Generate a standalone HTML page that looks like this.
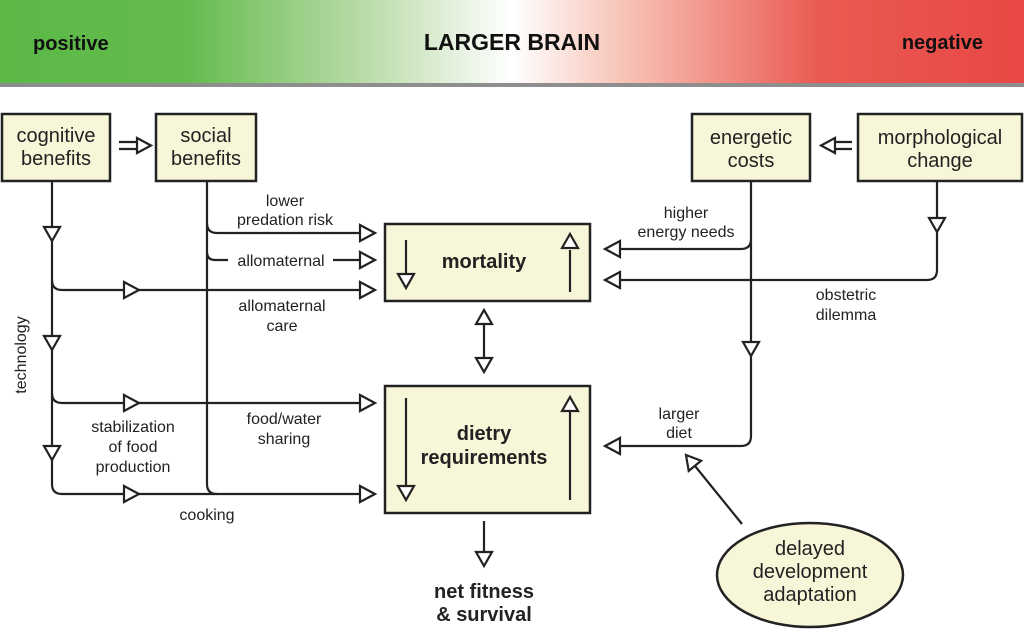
<!DOCTYPE html>
<html><head><meta charset="utf-8"><style>
html,body{margin:0;padding:0;background:#fff;width:1024px;height:633px;overflow:hidden}
svg{display:block;font-family:"Liberation Sans",Arial,sans-serif}
</style></head><body>
<svg width="1024" height="633" viewBox="0 0 1024 633" xmlns="http://www.w3.org/2000/svg">
<defs>
<linearGradient id="g" x1="0" x2="1" y1="0" y2="0">
<stop offset="0" stop-color="#5cb946"/>
<stop offset="0.18" stop-color="#63bb4d"/>
<stop offset="0.36" stop-color="#bcdcab"/>
<stop offset="0.5" stop-color="#ffffff"/>
<stop offset="0.6" stop-color="#f8c8bc"/>
<stop offset="0.8" stop-color="#ea5a52"/>
<stop offset="1" stop-color="#e84845"/>
</linearGradient>
</defs>
<rect x="0" y="0" width="1024" height="83" fill="url(#g)"/>
<rect x="0" y="83" width="1024" height="4" fill="#8e8e8e"/>
<text x="33" y="50" font-size="20" font-weight="bold" fill="#111">positive</text>
<text x="512" y="50" font-size="23" font-weight="bold" text-anchor="middle" fill="#111">LARGER BRAIN</text>
<text x="983" y="49" font-size="20" font-weight="bold" text-anchor="end" fill="#111">negative</text>

<g fill="#f8f6d8" stroke="#222" stroke-width="2.5">
<rect x="2" y="114" width="108" height="67"/>
<rect x="156" y="114" width="100" height="67"/>
<rect x="692" y="114" width="118" height="67"/>
<rect x="858" y="114" width="164" height="67"/>
<rect x="385" y="224" width="205" height="77"/>
<rect x="385" y="386" width="205" height="127"/>
<ellipse cx="810" cy="575" rx="93" ry="52"/>
</g>
<g font-size="20" text-anchor="middle" fill="#222">
<text x="56" y="142">cognitive</text><text x="56" y="165">benefits</text>
<text x="206" y="142">social</text><text x="206" y="165">benefits</text>
<text x="751" y="144">energetic</text><text x="751" y="167">costs</text>
<text x="940" y="144">morphological</text><text x="940" y="167">change</text>
<text x="810" y="555">delayed</text><text x="810" y="578">development</text><text x="810" y="601">adaptation</text>
</g>
<g font-size="20" font-weight="bold" text-anchor="middle" fill="#222">
<text x="484" y="268">mortality</text>
<text x="484" y="440">dietry</text><text x="484" y="464">requirements</text>
<text x="484" y="598">net fitness</text><text x="484" y="621">&amp; survival</text>
</g>
<g font-size="16" text-anchor="middle" fill="#222">
<text x="285" y="206">lower</text><text x="285" y="225">predation risk</text>
<text x="281" y="266">allomaternal</text>
<text x="282" y="311">allomaternal</text><text x="282" y="331">care</text>
<text x="284" y="424">food/water</text><text x="284" y="444">sharing</text>
<text x="133" y="432">stabilization</text><text x="133" y="452">of food</text><text x="133" y="472">production</text>
<text x="207" y="520">cooking</text>
<text x="686" y="218">higher</text><text x="686" y="237">energy needs</text>
<text x="846" y="300">obstetric</text><text x="846" y="320">dilemma</text>
<text x="679" y="419">larger</text><text x="679" y="438">diet</text>
<text x="26" y="355" transform="rotate(-90 26 355)">technology</text>
</g>

<g fill="none" stroke="#222" stroke-width="2.2">
<path d="M52 181 V484 Q52 494 62 494 H360"/>
<path d="M52 280 Q52 290 62 290 H360"/>
<path d="M52 393 Q52 403 62 403 H360"/>
<path d="M207 181 V484 Q207 494 217 494"/>
<path d="M207 223 Q207 233 217 233 H360"/>
<path d="M207 252 Q207 260 215 260 H228"/>
<path d="M333 260 H360"/>
<path d="M119 142 H143 M119 149 H143"/>
<path d="M834 142 H852 M834 149 H852"/>
<path d="M751 181 V436 Q751 446 741 446 H620"/>
<path d="M751 239 Q751 249 741 249 H620"/>
<path d="M937 181 V270 Q937 280 927 280 H620"/>
<path d="M484 322 V360"/>
<path d="M484 521 V556"/>
<path d="M742 524 L695 466"/>
<path d="M406 240 V275 M570 250 V292 M406 398 V488 M570 410 V500"/>
</g>
<g fill="#fff" stroke="#222" stroke-width="2.2" stroke-linejoin="miter">
<path d="M44 227 L60 227 L52 241 Z"/>
<path d="M44 336 L60 336 L52 350 Z"/>
<path d="M44 446 L60 446 L52 460 Z"/>
<path d="M929 218 L945 218 L937 232 Z"/>
<path d="M743 342 L759 342 L751 356 Z"/>
<path d="M398 274 L414 274 L406 288 Z"/>
<path d="M398 486 L414 486 L406 500 Z"/>
<path d="M476 358 L492 358 L484 372 Z"/>
<path d="M476 552 L492 552 L484 566 Z"/>
<path d="M562 248 L578 248 L570 234 Z"/>
<path d="M562 411 L578 411 L570 397 Z"/>
<path d="M476 324 L492 324 L484 310 Z"/>
<path d="M124 282 L124 298 L139 290 Z"/>
<path d="M124 395 L124 411 L139 403 Z"/>
<path d="M124 486 L124 502 L139 494 Z"/>
<path d="M360 225 L360 241 L375 233 Z"/>
<path d="M360 252 L360 268 L375 260 Z"/>
<path d="M360 282 L360 298 L375 290 Z"/>
<path d="M360 395 L360 411 L375 403 Z"/>
<path d="M360 486 L360 502 L375 494 Z"/>
<path d="M137 138 L137 153 L151 145.5 Z"/>
<path d="M620 241 L620 257 L605 249 Z"/>
<path d="M620 272 L620 288 L605 280 Z"/>
<path d="M620 438 L620 454 L605 446 Z"/>
<path d="M835 138 L835 153 L821 145.5 Z"/>
<path d="M686 455 L701.1 460.7 L688.7 470.9 Z"/>
</g>
</svg>
</body></html>
